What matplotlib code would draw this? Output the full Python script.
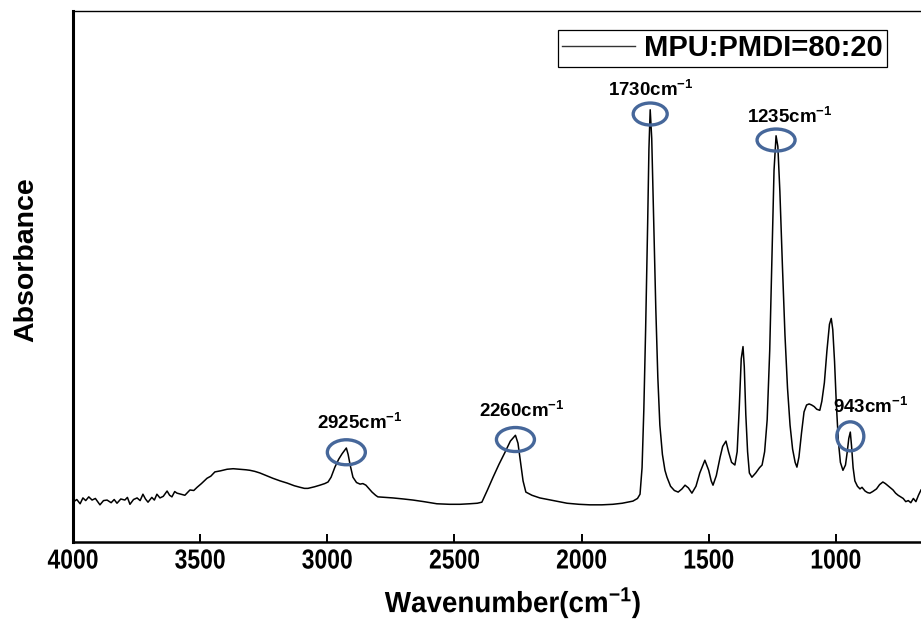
import matplotlib
matplotlib.use('Agg')
import matplotlib.pyplot as plt
import matplotlib.patches as patches
from matplotlib.font_manager import FontProperties
from matplotlib.patheffects import AbstractPathEffect
from matplotlib.transforms import Affine2D
import numpy as np

# FT-IR spectrum, MPU:PMDI = 80:20
wavenumber = [
    4000, 3985, 3972, 3961, 3950, 3938, 3925, 3912, 3894, 3880,
    3866, 3850, 3838, 3827, 3812, 3796, 3786, 3776, 3762, 3748,
    3736, 3725, 3715, 3705, 3690, 3680, 3670, 3658, 3645, 3630,
    3620, 3611, 3600, 3591, 3575, 3560, 3550, 3540, 3525, 3512,
    3495, 3473, 3458, 3442, 3420, 3394, 3370, 3343, 3320, 3304,
    3285, 3265, 3240, 3214, 3185, 3158, 3130, 3107, 3090, 3076,
    3050, 3029, 3010, 2997, 2985, 2970, 2955, 2942, 2933, 2925,
    2918, 2910, 2899, 2885, 2871, 2860, 2848, 2835, 2824, 2810,
    2801, 2770, 2742, 2700, 2663, 2620, 2569, 2520, 2478, 2440,
    2410, 2392, 2370, 2348, 2325, 2301, 2280, 2260, 2250, 2240,
    2230, 2219, 2195, 2164, 2110, 2057, 2010, 1967, 1920, 1877,
    1840, 1798, 1780, 1770, 1762, 1755, 1748, 1740, 1735, 1730,
    1724, 1716, 1708, 1700, 1692, 1682, 1672, 1664, 1650, 1635,
    1620, 1605, 1593, 1580, 1566, 1550, 1535, 1515, 1500, 1490,
    1483, 1470, 1455, 1445, 1432, 1422, 1410, 1397, 1388, 1380,
    1372, 1365, 1360, 1354, 1347, 1340, 1330, 1315, 1300, 1290,
    1280, 1270, 1260, 1250, 1243, 1235, 1228, 1220, 1210, 1200,
    1190, 1180, 1170, 1160, 1153, 1145, 1135, 1125, 1115, 1105,
    1095, 1085, 1075, 1063, 1055, 1045, 1035, 1025, 1018, 1012,
    1005, 998, 990, 982, 972, 962, 955, 949, 943, 938,
    932, 925, 915, 905, 897, 885, 875, 866, 855, 840,
    828, 815, 805, 795, 785, 775, 765, 755, 745, 735,
    725, 715, 705, 695, 685, 675, 665,
]
absorbance = [
    0.075, 0.080, 0.072, 0.083, 0.078, 0.085, 0.079, 0.082, 0.070, 0.078,
    0.079, 0.074, 0.080, 0.073, 0.081, 0.079, 0.084, 0.071, 0.080, 0.083,
    0.078, 0.090, 0.081, 0.075, 0.084, 0.079, 0.090, 0.083, 0.086, 0.096,
    0.088, 0.085, 0.095, 0.092, 0.090, 0.088, 0.093, 0.098, 0.097, 0.103,
    0.110, 0.120, 0.124, 0.132, 0.134, 0.137, 0.138, 0.137, 0.136, 0.135,
    0.133, 0.130, 0.125, 0.120, 0.115, 0.111, 0.106, 0.103, 0.101, 0.101,
    0.104, 0.107, 0.110, 0.113, 0.122, 0.141, 0.156, 0.166, 0.172, 0.177,
    0.165, 0.145, 0.122, 0.112, 0.109, 0.110, 0.107, 0.100, 0.094, 0.088,
    0.085, 0.084, 0.083, 0.081, 0.079, 0.076, 0.072, 0.071, 0.071, 0.072,
    0.073, 0.075, 0.098, 0.122, 0.146, 0.169, 0.190, 0.201, 0.186, 0.150,
    0.115, 0.094, 0.088, 0.083, 0.078, 0.073, 0.071, 0.070, 0.070, 0.071,
    0.073, 0.077, 0.082, 0.090, 0.140, 0.250, 0.400, 0.600, 0.740, 0.814,
    0.760, 0.600, 0.440, 0.310, 0.220, 0.165, 0.135, 0.122, 0.105, 0.097,
    0.094, 0.100, 0.107, 0.102, 0.092, 0.105, 0.130, 0.154, 0.135, 0.115,
    0.107, 0.125, 0.160, 0.180, 0.190, 0.170, 0.150, 0.145, 0.170, 0.250,
    0.345, 0.368, 0.330, 0.240, 0.170, 0.130, 0.122, 0.130, 0.140, 0.145,
    0.170, 0.230, 0.360, 0.560, 0.700, 0.765, 0.745, 0.660, 0.520, 0.390,
    0.290, 0.220, 0.175, 0.150, 0.141, 0.160, 0.205, 0.245, 0.258, 0.260,
    0.258, 0.255, 0.250, 0.248, 0.265, 0.300, 0.360, 0.410, 0.421, 0.400,
    0.340, 0.260, 0.190, 0.150, 0.135, 0.145, 0.170, 0.195, 0.207, 0.180,
    0.140, 0.115, 0.105, 0.100, 0.103, 0.096, 0.093, 0.092, 0.095, 0.100,
    0.108, 0.113, 0.110, 0.106, 0.102, 0.098, 0.092, 0.088, 0.085, 0.082,
    0.076, 0.078, 0.074, 0.082, 0.076, 0.088, 0.098,
]

# marked bands
peaks = [2925, 2260, 1730, 1235, 943]
tick_values = [4000, 3500, 3000, 2500, 2000, 1500, 1000]
series_name = 'MPU:PMDI=80:20'


class Stretch(AbstractPathEffect):
    """Draw text taller than its layout box (narrow-font look)."""

    def __init__(self, sy):
        super().__init__()
        self.sy = sy

    def draw_path(self, renderer, gc, tpath, affine, rgbFace=None):
        ext = tpath.get_extents()
        cy = (ext.y0 + ext.y1) / 2
        t = Affine2D().translate(0, -cy).scale(1, self.sy).translate(0, cy) + affine
        renderer.draw_path(gc, tpath, t, rgbFace)


plt.rcParams['mathtext.fontset'] = 'custom'
plt.rcParams['mathtext.rm'] = 'Liberation Sans:bold'
plt.rcParams['mathtext.it'] = 'Liberation Sans:bold'
plt.rcParams['mathtext.bf'] = 'Liberation Sans:bold'

bold = dict(family='Liberation Sans', weight='bold')

fig = plt.figure(figsize=(9.21, 6.22), dpi=100)
ax = fig.add_axes([73 / 921, 80 / 622, 848 / 921, 531 / 622])

ax.plot(wavenumber, absorbance, color='black', lw=1.1, label=series_name)
ax.set_xlim(4000, 665)
ax.set_ylim(0, 1.0)
ax.set_yticks([])
ax.set_xticks(tick_values)
ax.tick_params(axis='x', direction='in', length=6, width=1.4, pad=5)
for lbl in ax.get_xticklabels():
    lbl.set_fontproperties(FontProperties(size=16.5, **bold))
    lbl.set_path_effects([Stretch(1.2)])

ax.spines['left'].set_linewidth(2.2)
ax.spines['bottom'].set_linewidth(1.8)
ax.spines['top'].set_linewidth(1.0)
ax.spines['right'].set_visible(False)

xl = ax.set_xlabel('Wavenumber(cm$^{-1}$)', fontsize=20, **bold)
xl.set_path_effects([Stretch(1.05)])
ax.xaxis.set_label_coords(0.519, -0.083)
ax.set_ylabel('Absorbance', fontsize=20.5, **bold)
ax.yaxis.set_label_coords(-0.0401, 0.531)

leg = ax.legend(loc='upper right', bbox_to_anchor=(0.960, 0.964), fancybox=False,
                edgecolor='black', framealpha=1, borderaxespad=0, handlelength=2.5,
                handletextpad=0.3, borderpad=0.15,
                prop=FontProperties(size=21, **bold))
leg.get_frame().set_linewidth(0.9)
leg.get_lines()[0].set_color('#333333')
leg.get_lines()[0].set_linewidth(1.0)

# ellipse size (px) and label offsets (pt) for each marked band
px_x = 848 / 3335.0
px_y = 531 / 1.0
ring_px = [(38, 25), (38, 24), (34, 22), (38, 22), (27, 29)]
label_off = [(10, 18), (4.7, 17.3), (0.5, 14.4), (10, 13.7), (-12.5, 18)]

wn_asc = np.array(wavenumber)[::-1]
a_asc = np.array(absorbance)[::-1]
for p, (w, h), (dx, dy) in zip(peaks, ring_px, label_off):
    y = np.interp(p, wn_asc, a_asc)
    ring = patches.Ellipse((p, y - 0.008), width=w / px_x, height=h / px_y,
                           fill=False, edgecolor='#46679a', lw=2.4, zorder=3)
    ax.add_patch(ring)
    ax.annotate(f'{p}cm$^{{-1}}$', xy=(p, y), xytext=(dx, dy), textcoords='offset points',
                ha='left' if p == 943 else 'center', va='center',
                fontsize=13.5, annotation_clip=False, **bold)

fig.savefig('out.png', dpi=100)
